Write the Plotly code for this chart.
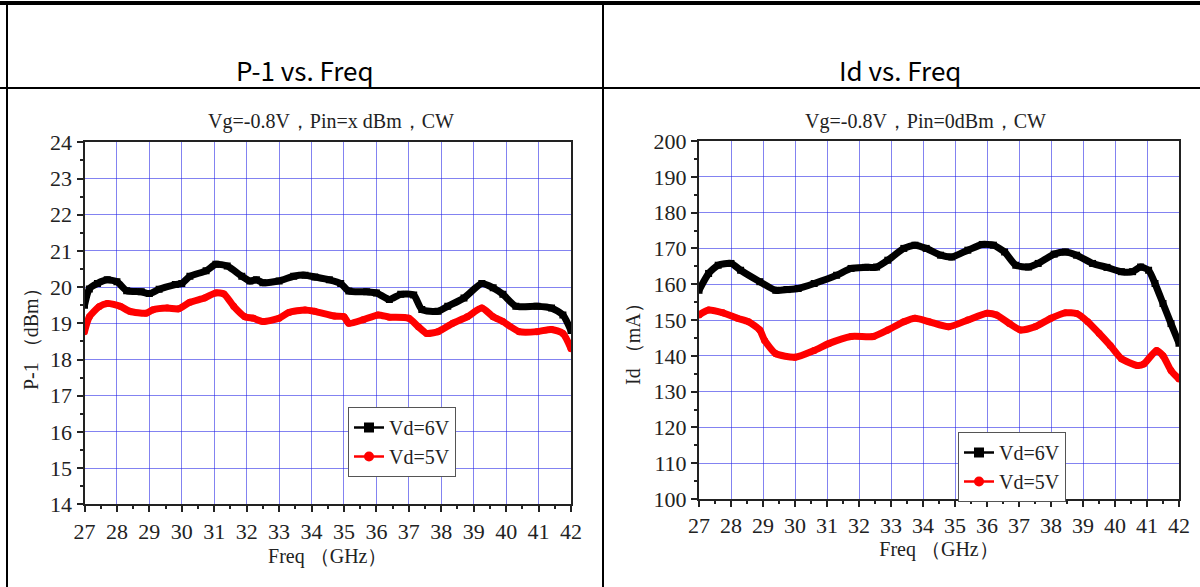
import plotly.graph_objects as go

# ---------------- data ----------------
freq_p1_6v = [27.0, 27.15, 27.4, 27.7, 28.0, 28.3, 28.75, 29.0, 29.3, 29.8, 30.0, 30.25, 30.75, 31.05, 31.4,
              31.85, 32.1, 32.3, 32.5, 33.0, 33.45, 33.8, 34.1, 34.55, 34.9, 35.15, 35.7, 36.0, 36.4, 36.75,
              37.15, 37.4, 37.9, 38.2, 38.7, 39.25, 39.6, 39.9, 40.3, 40.95, 41.4, 41.75, 42.0]
p1_6v = [19.5, 19.95, 20.1, 20.2, 20.15, 19.9, 19.87, 19.82, 19.94, 20.07, 20.1, 20.3, 20.45, 20.63, 20.58,
         20.3, 20.17, 20.2, 20.12, 20.17, 20.3, 20.33, 20.28, 20.2, 20.1, 19.89, 19.87, 19.84, 19.66, 19.8,
         19.78, 19.38, 19.33, 19.47, 19.7, 20.1, 19.98, 19.8, 19.47, 19.47, 19.42, 19.23, 18.8]

freq_p1_5v = [27.0, 27.15, 27.45, 27.7, 28.1, 28.4, 28.9, 29.1, 29.55, 29.9, 30.25, 30.7, 31.05, 31.3, 31.6,
              31.95, 32.2, 32.5, 33.0, 33.3, 33.8, 34.1, 34.7, 35.0, 35.15, 35.6, 36.05, 36.4, 37.0, 37.3,
              37.55, 37.9, 38.35, 38.8, 39.25, 39.6, 39.9, 40.4, 40.95, 41.4, 41.75, 42.0]
p1_5v = [18.77, 19.18, 19.46, 19.55, 19.47, 19.33, 19.28, 19.37, 19.42, 19.4, 19.58, 19.7, 19.84, 19.81, 19.47,
         19.18, 19.14, 19.05, 19.14, 19.3, 19.37, 19.33, 19.2, 19.18, 19.0, 19.1, 19.23, 19.17, 19.14, 18.9,
         18.72, 18.77, 19.0, 19.18, 19.42, 19.18, 19.05, 18.77, 18.77, 18.83, 18.72, 18.3]

freq_id_6v = [27.0, 27.3, 27.6, 28.0, 28.3, 28.9, 29.4, 29.75, 30.1, 30.6, 31.3, 31.75, 32.2, 32.55, 32.9,
              33.4, 33.75, 34.1, 34.55, 34.9, 35.4, 35.85, 36.2, 36.55, 36.9, 37.3, 37.6, 38.1, 38.45, 38.8,
              39.3, 39.75, 40.2, 40.55, 40.8, 41.05, 41.25, 41.5, 41.75, 42.0]
id_6v = [158.3, 163.0, 165.3, 165.8, 163.9, 160.7, 158.3, 158.5, 158.8, 160.2, 162.5, 164.4, 164.7, 164.8, 166.7,
         170.0, 170.9, 170.0, 168.1, 167.6, 169.5, 171.1, 170.9, 169.0, 165.3, 164.8, 165.8, 168.4, 169.0, 168.1,
         165.8, 164.7, 163.5, 163.5, 164.8, 163.9, 160.2, 154.6, 149.0, 143.5]

freq_id_5v = [27.0, 27.3, 27.75, 28.2, 28.55, 28.9, 29.05, 29.4, 30.0, 30.6, 31.05, 31.75, 32.45, 32.9, 33.4,
              33.75, 34.2, 34.8, 35.4, 36.0, 36.3, 36.7, 37.05, 37.5, 38.0, 38.45, 38.8, 39.15, 39.5, 39.85,
              40.2, 40.7, 40.9, 41.3, 41.5, 41.75, 42.0]
id_5v = [151.4, 152.8, 152.0, 150.5, 149.5, 147.2, 144.3, 140.6, 139.6, 141.5, 143.4, 145.4, 145.4, 147.2, 149.5,
         150.5, 149.5, 148.1, 150.0, 151.9, 151.4, 149.0, 147.2, 148.1, 150.5, 152.0, 151.8, 149.5, 146.3, 142.9,
         139.2, 137.3, 137.7, 141.5, 140.0, 135.9, 133.5]

x_ticks = list(range(27, 43))
p1_ticks = list(range(14, 25))
id_ticks = list(range(100, 201, 10))

header_titles = ["P-1 vs. Freq", "Id vs. Freq"]
sub_titles = ["Vg=-0.8V，Pin=x dBm，CW", "Vg=-0.8V，Pin=0dBm，CW"]
x_title = "Freq （GHz）"
y_titles = ["P-1 （dBm）", "Id （mA）"]
series_names = ["Vd=6V", "Vd=5V"]

# ---------------- figure ----------------
W, H = 1200, 587
SERIF = "Liberation Serif"
SANS = "Noto Sans CJK SC"
GRID = "rgba(30,30,230,0.55)"
TXT = "#222"


def px(x):
    return x / W


def py(y):
    return 1 - y / H


fig = go.Figure()


def add_series(xs, ys, name, color, symbol, xa, ya, legend):
    fig.add_trace(go.Scatter(
        x=xs, y=ys, name=name, mode="lines+markers", showlegend=False,
        line=dict(color=color, width=7, shape="spline", smoothing=0.6),
        marker=dict(color=color, symbol=symbol, size=7),
        xaxis=xa, yaxis=ya,
    ))
    # legend entry (thin line with marker, as in the reference legend)
    fig.add_trace(go.Scatter(
        x=[None], y=[None], name=name, mode="lines+markers", showlegend=True,
        line=dict(color=color, width=2.5),
        marker=dict(color=color, symbol=symbol, size=10),
        xaxis=xa, yaxis=ya, legend=legend,
    ))


add_series(freq_p1_6v, p1_6v, series_names[0], "black", "square", "x", "y", "legend")
add_series(freq_p1_5v, p1_5v, series_names[1], "red", "circle", "x", "y", "legend")
add_series(freq_id_6v, id_6v, series_names[0], "black", "square", "x2", "y2", "legend2")
add_series(freq_id_5v, id_5v, series_names[1], "red", "circle", "x2", "y2", "legend2")

axis_common = dict(
    showgrid=True, gridcolor=GRID, gridwidth=1,
    showline=True, linecolor=TXT, linewidth=2, mirror=True,
    ticks="outside", ticklen=6, tickwidth=2, tickcolor=TXT,
    tickfont=dict(family=SERIF, size=22, color=TXT),
    zeroline=False, automargin=False,
)
title_font = dict(family=SERIF, size=20, color=TXT)
minor_x = dict(dtick=0.5, ticks="outside", ticklen=3, tickcolor=TXT, showgrid=False)

fig.update_layout(
    template="none",
    width=W, height=H, autosize=False,
    margin=dict(l=0, r=0, t=0, b=0, pad=0, autoexpand=False),
    paper_bgcolor="white", plot_bgcolor="white",
    showlegend=True,
    xaxis=dict(domain=[px(84.5), px(571)], range=[27, 42], tickvals=x_ticks, anchor="y",
               minor=minor_x, title=dict(text=x_title, font=title_font, standoff=6),
               **axis_common),
    yaxis=dict(domain=[py(504.3), py(142.3)], range=[14, 24], tickvals=p1_ticks, anchor="x",
               minor=dict(dtick=0.5, ticks="outside", ticklen=3, tickcolor=TXT, showgrid=False),
               **axis_common),
    xaxis2=dict(domain=[px(699), px(1179)], range=[27, 42], tickvals=x_ticks, anchor="y2",
                minor=minor_x, title=dict(text=x_title, font=title_font, standoff=4),
                **axis_common),
    yaxis2=dict(domain=[py(499), py(141)], range=[100, 200], tickvals=id_ticks, anchor="x2",
                minor=dict(dtick=5, ticks="outside", ticklen=3, tickcolor=TXT, showgrid=False),
                **axis_common),
    legend=dict(x=px(348), y=py(407), xanchor="left", yanchor="top",
                bgcolor="white", bordercolor="#555", borderwidth=1,
                font=dict(family=SERIF, size=20, color=TXT),
                itemwidth=30, tracegroupgap=0),
    legend2=dict(x=px(958), y=py(432), xanchor="left", yanchor="top",
                 bgcolor="white", bordercolor="#555", borderwidth=1,
                 font=dict(family=SERIF, size=20, color=TXT),
                 itemwidth=30, tracegroupgap=0),
)

# table lines
shapes = [
    dict(type="line", xref="paper", yref="paper", x0=0, x1=1, y0=py(3), y1=py(3),
         line=dict(color="black", width=4)),
    dict(type="line", xref="paper", yref="paper", x0=0, x1=1, y0=py(88), y1=py(88),
         line=dict(color="black", width=2)),
    dict(type="line", xref="paper", yref="paper", x0=px(7), x1=px(7), y0=0, y1=py(2),
         line=dict(color="black", width=2)),
    dict(type="line", xref="paper", yref="paper", x0=px(603), x1=px(603), y0=0, y1=py(2),
         line=dict(color="black", width=2)),
]
fig.update_layout(shapes=shapes)

annotations = [
    dict(text=header_titles[0], x=px(305), y=py(70), xref="paper", yref="paper", showarrow=False,
         xanchor="center", yanchor="middle", font=dict(family=SANS, size=26, color="black")),
    dict(text=header_titles[1], x=px(900), y=py(70), xref="paper", yref="paper", showarrow=False,
         xanchor="center", yanchor="middle", font=dict(family=SANS, size=26, color="black")),
    dict(text=sub_titles[0], x=px(331), y=py(122), xref="paper", yref="paper", showarrow=False,
         xanchor="center", yanchor="middle", font=dict(family=SERIF, size=20, color=TXT)),
    dict(text=sub_titles[1], x=px(926), y=py(121), xref="paper", yref="paper", showarrow=False,
         xanchor="center", yanchor="middle", font=dict(family=SERIF, size=20, color=TXT)),
    dict(text=y_titles[0], x=px(31), y=py(334), xref="paper", yref="paper", showarrow=False,
         textangle=-90, xanchor="center", yanchor="middle", font=title_font),
    dict(text=y_titles[1], x=px(633), y=py(339), xref="paper", yref="paper", showarrow=False,
         textangle=-90, xanchor="center", yanchor="middle", font=title_font),
]
fig.update_layout(annotations=annotations)

fig.write_html(
    "out.html",
    config={"displayModeBar": False},
    post_script="document.body.style.margin='0';document.body.style.overflow='hidden';",
)
